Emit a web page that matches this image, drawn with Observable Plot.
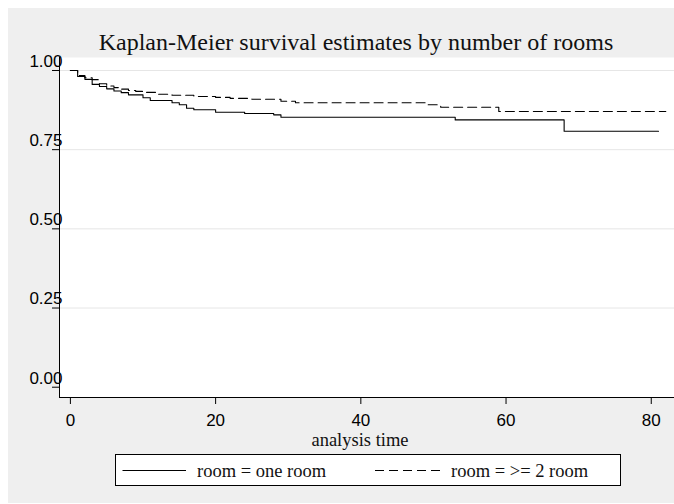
<!DOCTYPE html>
<html>
<head>
<meta charset="utf-8">
<script src="https://cdn.jsdelivr.net/npm/d3@7"></script>
<script src="https://cdn.jsdelivr.net/npm/@observablehq/plot@0.6"></script>
<style>
  html, body { margin: 0; padding: 0; background: #ffffff; }
  #wrap { position: relative; width: 674px; height: 504px; overflow: hidden; background: #ffffff; }
  #bg { position: absolute; left: 8px; top: 8px; width: 666px; height: 495px; background: #efefef; }
  #chart { position: absolute; left: 0; top: 0; }
</style>
</head>
<body>
<div id="wrap"><div id="bg"></div><div id="chart"></div></div>
<script>
// ---- data ----
const titleText = "Kaplan-Meier survival estimates by number of rooms";
const xLabel = "analysis time";
const groups = ["room = one room", "room = >= 2 room"];

const timeOne = [0, 1, 2, 3, 4, 5, 6, 7, 8, 10, 11, 14, 15, 16, 17, 20, 24, 28, 29, 53, 68, 81];
const survOne = [1, 0.981, 0.972, 0.956, 0.9495, 0.942, 0.935, 0.930, 0.923, 0.914, 0.905, 0.898, 0.892, 0.881, 0.876, 0.868, 0.864, 0.860, 0.8525, 0.844, 0.808, 0.808];

const timeTwo = [0, 1, 2, 3, 4, 5, 6, 7, 8, 9, 10, 12, 14, 17, 20, 22, 25, 29, 31, 49, 51, 59, 82];
const survTwo = [1, 0.984, 0.977, 0.971, 0.958, 0.951, 0.946, 0.941, 0.937, 0.934, 0.931, 0.925, 0.922, 0.918, 0.915, 0.912, 0.909, 0.903, 0.898, 0.892, 0.884, 0.8705, 0.8705];

const xTicks = [0, 20, 40, 60, 80];
const yTicks = [0, 0.25, 0.5, 0.75, 1];
const yGrid = [0.25, 0.5, 0.75, 1];

// ---- build ----
const rowsOne = timeOne.map((t, i) => ({t, s: survOne[i], group: groups[0]}));
const rowsTwo = timeTwo.map((t, i) => ({t, s: survTwo[i], group: groups[1]}));

const xDomain = [-1.5, 83.2];
const yDomain = [-0.0325, 1.041];

const chart = Plot.plot({
  width: 674,
  height: 504,
  marginLeft: 59,
  marginRight: 0,
  marginTop: 57,
  marginBottom: 107,
  style: {background: "transparent", color: "black", fontFamily: "'Liberation Sans', Arial, sans-serif", fontSize: "17px", overflow: "visible"},
  x: {domain: xDomain},
  y: {domain: yDomain},
  marks: [
    Plot.frame({fill: "white", stroke: null}),
    Plot.ruleY(yGrid, {stroke: "#e6e6e6", strokeWidth: 1}),
    Plot.line(rowsTwo, {x: "t", y: "s", curve: "step-after", stroke: "black", strokeWidth: 1.1, strokeDasharray: "9,5"}),
    Plot.line(rowsOne, {x: "t", y: "s", curve: "step-after", stroke: "black", strokeWidth: 1.1}),
    Plot.ruleX([xDomain[0]], {stroke: "black", strokeWidth: 1}),
    Plot.ruleY([yDomain[0]], {stroke: "black", strokeWidth: 1}),
    Plot.axisX(xTicks, {tickSize: 7, tickPadding: 9, fontSize: 17, label: null, tickFormat: d => String(d)}),
    Plot.axisY(yTicks, {tickSize: 7, fill: "none", label: null}),
    Plot.axisY(yTicks, {tickSize: 0, tickPadding: -3, stroke: "none", dy: -9, fontSize: 17, label: null, tickFormat: d3.format(".2f")})
  ]
});
document.getElementById("chart").appendChild(chart);

// ---- title, axis title and legend (non-data decorations) ----
const svg = d3.select(chart);
const serif = "'Liberation Serif', 'Times New Roman', serif";
svg.append("text")
  .attr("x", 356).attr("y", 50)
  .attr("text-anchor", "middle")
  .attr("font-family", serif).attr("font-size", 24).attr("fill", "#111")
  .text(titleText);
svg.append("text")
  .attr("x", 360).attr("y", 446)
  .attr("text-anchor", "middle")
  .attr("font-family", serif).attr("font-size", 18.5).attr("fill", "#111")
  .text(xLabel);

const lg = svg.append("g");
lg.append("rect").attr("x", 115.5).attr("y", 454.5).attr("width", 505).attr("height", 31)
  .attr("fill", "white").attr("stroke", "black").attr("stroke-width", 1);
lg.append("line").attr("x1", 122.5).attr("x2", 186).attr("y1", 470.5).attr("y2", 470.5)
  .attr("stroke", "black").attr("stroke-width", 1.1);
lg.append("text").attr("x", 197).attr("y", 477).attr("text-anchor", "start")
  .attr("font-family", serif).attr("font-size", 18.5).attr("fill", "#111").text(groups[0]);
lg.append("line").attr("x1", 375).attr("x2", 441).attr("y1", 470.5).attr("y2", 470.5)
  .attr("stroke", "black").attr("stroke-width", 1.1).attr("stroke-dasharray", "9,5");
lg.append("text").attr("x", 451).attr("y", 477).attr("text-anchor", "start")
  .attr("font-family", serif).attr("font-size", 18.5).attr("fill", "#111").text(groups[1]);
</script>
</body>
</html>
